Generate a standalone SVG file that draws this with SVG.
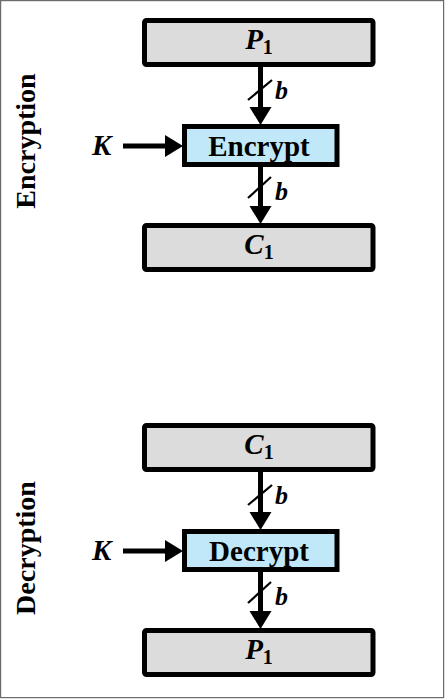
<svg xmlns="http://www.w3.org/2000/svg" width="445" height="699" viewBox="0 0 445 699">
<style>
.frame{fill:#fff;stroke:#6b6b6b;stroke-width:1.2}
.data{fill:#dcdcdc;stroke:#000;stroke-width:5;}
.op{fill:#c0e8f8;stroke:#000;stroke-width:5;}
.t{font-family:"Liberation Serif","Times New Roman",serif;font-weight:bold;fill:#000}
.lbl{font-size:29px;text-anchor:middle}
.var{font-size:29px;font-style:italic}
.sub{font-size:20px;font-style:normal}
.side{font-size:28px;text-anchor:middle}
.b{font-size:26px;font-style:italic}
.arrow{stroke:#000;stroke-width:5;fill:none;marker-end:url(#ah)}
.slash{stroke:#000;stroke-width:2.2;fill:none}
</style>
<defs>
<marker id="ah" markerUnits="userSpaceOnUse" markerWidth="19" markerHeight="23" refX="0" refY="11" orient="auto" overflow="visible">
<path d="M0,0 L18,11 L0,22 Z" fill="#000"/>
</marker>
</defs>
<rect class="frame" x="0.6" y="0.6" width="443" height="697"/>
<g id="enc-label"><text class="t side" transform="translate(35,141) rotate(-90)">Encryption</text></g>
<g id="dec-label"><text class="t side" transform="translate(35,548) rotate(-90)">Decryption</text></g>

<g id="p1-top"><rect class="data" x="144.5" y="20.5" width="228.5" height="44" rx="2"/>
<text class="t var" x="259" y="49" text-anchor="middle">P<tspan class="sub" dy="5">1</tspan></text></g>
<g id="encrypt"><rect class="op" x="184.5" y="126.5" width="152.5" height="38"/>
<text class="t lbl" x="259" y="155.5">Encrypt</text></g>
<g id="c1-top"><rect class="data" x="144.5" y="225.5" width="228.5" height="44" rx="2"/>
<text class="t var" x="259" y="254" text-anchor="middle">C<tspan class="sub" dy="5">1</tspan></text></g>
<g id="k-top"><text class="t var" x="92" y="155">K</text></g>

<g id="c1-bot"><rect class="data" x="144.5" y="425.5" width="228.5" height="44" rx="2"/>
<text class="t var" x="259" y="454" text-anchor="middle">C<tspan class="sub" dy="5">1</tspan></text></g>
<g id="decrypt"><rect class="op" x="184.5" y="531.5" width="152.5" height="38"/>
<text class="t lbl" x="259" y="560.5">Decrypt</text></g>
<g id="p1-bot"><rect class="data" x="144.5" y="630.5" width="228.5" height="44" rx="2"/>
<text class="t var" x="259" y="659" text-anchor="middle">P<tspan class="sub" dy="5">1</tspan></text></g>
<g id="k-bot"><text class="t var" x="92" y="560">K</text></g>

<g id="connectors">
<line class="arrow" x1="260.5" y1="66" x2="260.5" y2="107"/>
<line class="slash" x1="248" y1="100" x2="272" y2="80"/>
<text class="t b" x="275" y="99">b</text>
<line class="arrow" x1="260.5" y1="166" x2="260.5" y2="206"/>
<line class="slash" x1="248" y1="198" x2="271" y2="177"/>
<text class="t b" x="275" y="200">b</text>
<line class="arrow" x1="123" y1="146" x2="165" y2="146"/>

<line class="arrow" x1="260.5" y1="471" x2="260.5" y2="512"/>
<line class="slash" x1="248" y1="505" x2="272" y2="485"/>
<text class="t b" x="275" y="504">b</text>
<line class="arrow" x1="260.5" y1="571" x2="260.5" y2="611"/>
<line class="slash" x1="248" y1="603" x2="271" y2="582"/>
<text class="t b" x="275" y="605">b</text>
<line class="arrow" x1="123" y1="551" x2="165" y2="551"/>
</g>
</svg>
